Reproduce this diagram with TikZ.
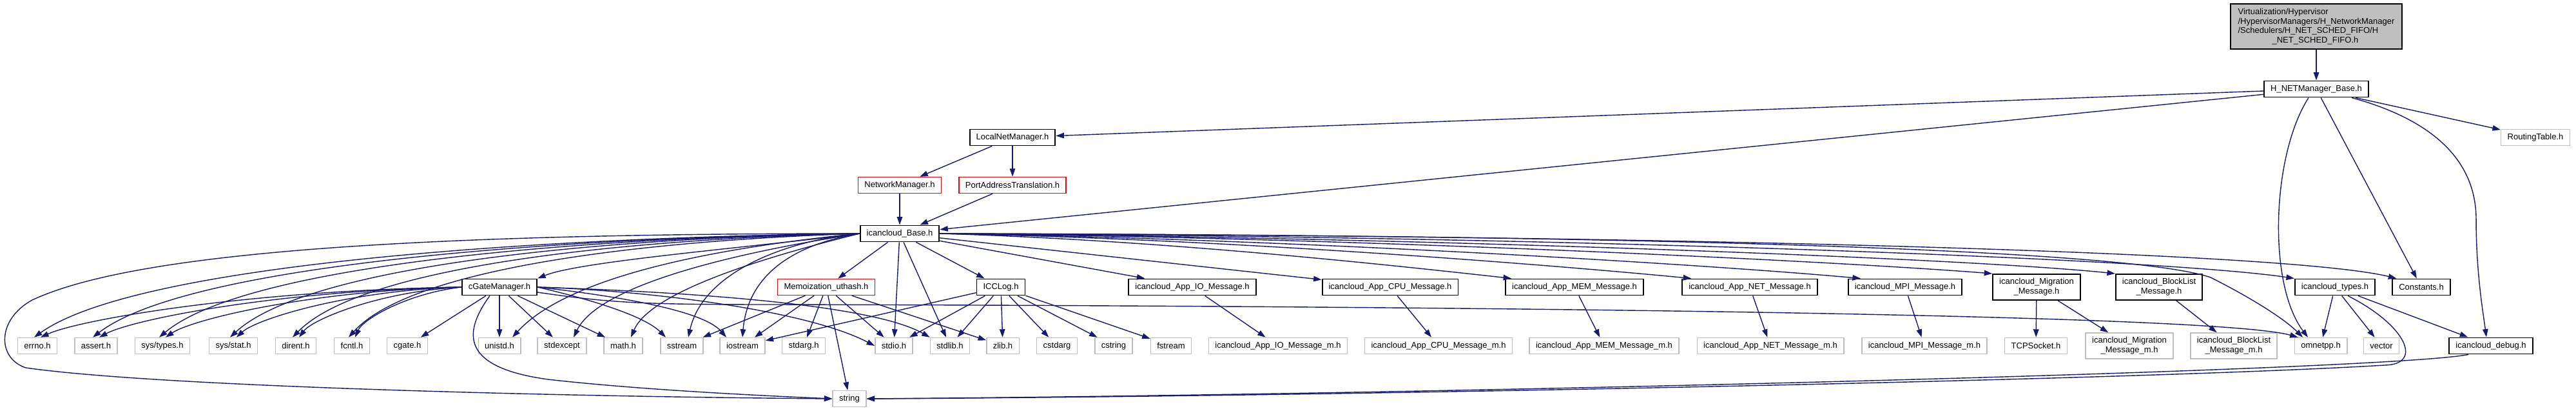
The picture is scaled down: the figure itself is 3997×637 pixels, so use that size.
\documentclass[tikz,border=0pt]{standalone}
\usepackage{fontspec}
\setmainfont{Liberation Sans}
\usetikzlibrary{arrows.meta}
\definecolor{dox_blue}{RGB}{25, 25, 112}
\definecolor{dox_grey}{RGB}{191, 191, 191}

\begin{document}
\begin{tikzpicture}[x=0.01cm, y=-0.01cm, >={Triangle[length=1.25mm, width=0.85mm]},
      font=\fontsize{3.7}{4.2}\selectfont,
      filebox/.style={draw, fill=white, align=center, minimum height=0.25cm,
        inner xsep=0.1cm, inner ysep=0.2mm},
      hdr/.style={filebox, draw=black, line width=0.55pt},
      sys/.style={filebox, draw=dox_grey, line width=0.4pt},
      trunc/.style={filebox, draw=red, line width=0.4pt},
      dep/.style={->, draw=dox_blue, line width=0.4pt}]
    \useasboundingbox (0,0) rectangle (3997,637);

    \node[hdr, fill=dox_grey, align=left, minimum width=2.66cm, minimum height=0.7cm] (root) at (3594,41)
      {Virtualization/Hypervisor\\/HypervisorManagers/H\_NetworkManager\\/Schedulers/H\_NET\_SCHED\_FIFO/H\\\hspace*{0.53cm}\_NET\_SCHED\_FIFO.h};
    \node[hdr]   (hnet)     at (3594,138) {H\_NETManager\_Base.h};
    \node[hdr]   (localnet) at (1571,213) {LocalNetManager.h};
    \node[sys]   (routing)  at (3934,213) {RoutingTable.h};
    \node[trunc] (netmgr)   at (1396,287) {NetworkManager.h};
    \node[trunc] (portaddr) at (1571,287) {PortAddressTranslation.h};
    \node[hdr]   (base)     at (1396,362) {icancloud\_Base.h};

    \node[hdr]   (gatemgr)   at (775,445)  {cGateManager.h};
    \node[trunc] (memo)      at (1282,445) {Memoization\_uthash.h};
    \node[hdr]   (icclog)    at (1553,445) {ICCLog.h};
    \node[hdr]   (appio)     at (1850,445) {icancloud\_App\_IO\_Message.h};
    \node[hdr]   (appcpu)    at (2157,445) {icancloud\_App\_CPU\_Message.h};
    \node[hdr]   (appmem)    at (2443,445) {icancloud\_App\_MEM\_Message.h};
    \node[hdr]   (appnet)    at (2715,445) {icancloud\_App\_NET\_Message.h};
    \node[hdr]   (mpi)       at (2956,445) {icancloud\_MPI\_Message.h};
    \node[hdr, minimum height=0.4cm] (migration) at (3160,445) {icancloud\_Migration\\\_Message.h};
    \node[hdr, minimum height=0.4cm] (blocklist) at (3350,445) {icancloud\_BlockList\\\_Message.h};
    \node[hdr]   (types)     at (3623,445) {icancloud\_types.h};
    \node[hdr]   (constants) at (3757,445) {Constants.h};

    \node[sys] (errno)     at (58,536)   {errno.h};
    \node[sys] (assert)    at (149,536)  {assert.h};
    \node[sys] (systypes)  at (252,536)  {sys/types.h};
    \node[sys] (sysstat)   at (362,536)  {sys/stat.h};
    \node[sys] (dirent)    at (459,536)  {dirent.h};
    \node[sys] (fcntl)     at (546,536)  {fcntl.h};
    \node[sys] (cgateh)    at (632,536)  {cgate.h};
    \node[sys] (unistd)    at (775,536)  {unistd.h};
    \node[sys] (stdexcept) at (872,536)  {stdexcept};
    \node[sys] (math)      at (967,536)  {math.h};
    \node[sys] (sstream)   at (1058,536) {sstream};
    \node[sys] (iostream)  at (1152,536) {iostream};
    \node[sys] (stdarg)    at (1247,536) {stdarg.h};
    \node[sys] (stdio)     at (1387,536) {stdio.h};
    \node[sys] (stdlib)    at (1474,536) {stdlib.h};
    \node[sys] (zlib)      at (1556,536) {zlib.h};
    \node[sys] (cstdarg)   at (1640,536) {cstdarg};
    \node[sys] (cstring)   at (1728,536) {cstring};
    \node[sys] (fstream)   at (1817,536) {fstream};
    \node[sys] (appiom)    at (1983,536) {icancloud\_App\_IO\_Message\_m.h};
    \node[sys] (appcpum)   at (2232,536) {icancloud\_App\_CPU\_Message\_m.h};
    \node[sys] (appmemm)   at (2489,536) {icancloud\_App\_MEM\_Message\_m.h};
    \node[sys] (appnetm)   at (2747,536) {icancloud\_App\_NET\_Message\_m.h};
    \node[sys] (mpim)      at (2986,536) {icancloud\_MPI\_Message\_m.h};
    \node[sys] (tcpsocket) at (3159,536) {TCPSocket.h};
    \node[sys, minimum height=0.4cm] (migm)   at (3304,536) {icancloud\_Migration\\\_Message\_m.h};
    \node[sys, minimum height=0.4cm] (blockm) at (3466,536) {icancloud\_BlockList\\\_Message\_m.h};
    \node[sys] (omnetpp)   at (3601,536) {omnetpp.h};
    \node[sys] (vector)    at (3695,536) {vector};
    \node[hdr] (debug)     at (3865,536) {icancloud\_debug.h};
    \node[sys] (str)       at (1318,618) {string};

    % upper part
    \draw[dep] (root) -- (hnet);
    \draw[dep] (hnet) -- (localnet);
    \draw[dep] (hnet) -- (base);
    \draw[dep] (hnet) -- (routing);
    \draw[dep] (hnet) -- (constants);
    \draw[dep] ([xshift=-0.12cm]hnet.south) .. controls (3525,240) and (3518,440) .. ([xshift=-0.2cm]omnetpp.north);
    \draw[dep] ([xshift=0.55cm]hnet.south) .. controls (3790,190) and (3842,260) .. (3842,340)
      .. controls (3842,420) and (3852,480) .. ([xshift=-0.07cm]debug.north);
    \draw[dep] (localnet) -- (netmgr);
    \draw[dep] (localnet) -- (portaddr);
    \draw[dep] (netmgr) -- (base);
    \draw[dep] (portaddr) -- (base);

    % icancloud_Base.h
    \draw[dep] (base.west) .. controls (824,368) and (211,410) .. ([xshift=-0.05cm]errno.north);
    \draw[dep] (base.west) .. controls (860,368) and (291,410) .. ([xshift=-0.05cm]assert.north);
    \draw[dep] (base.west) .. controls (901,368) and (382,410) .. ([xshift=-0.05cm]systypes.north);
    \draw[dep] (base.west) .. controls (945,368) and (479,410) .. ([xshift=-0.05cm]sysstat.north);
    \draw[dep] (base.west) .. controls (984,370) and (564,410) .. ([xshift=-0.05cm]dirent.north);
    \draw[dep] (base.west) .. controls (1019,372) and (641,412) .. ([xshift=-0.05cm]fcntl.north);
    \draw[dep] (base.west) .. controls (1150,385) and (900,405) .. (gatemgr.north east);
    \draw[dep] (base.west) .. controls (1100,385) and (880,430) .. ([xshift=0.2cm]unistd.north);
    \draw[dep] (base.west) .. controls (1150,390) and (930,440) .. ([xshift=0.18cm]stdexcept.north);
    \draw[dep] (base.west) .. controls (1200,395) and (1010,450) .. ([xshift=0.12cm]math.north);
    \draw[dep] (base.west) .. controls (1224,372) and (1091,420) .. ([xshift=0.1cm]sstream.north);
    \draw[dep] (base.west) .. controls (1225,380) and (1160,430) .. (iostream.north);
    \draw[dep] (base.west) .. controls (600,362) and (200,395) .. (50,465)
      .. controls (-5,495) and (-5,555) .. (40,570) .. controls (250,600) and (900,615) .. (str.west);
    \draw[dep] (base) -- (memo);
    \draw[dep] (base) -- (stdio);
    \draw[dep] (base) -- (stdlib);
    \draw[dep] (base) -- (icclog);
    \draw[dep] (base) -- (appio);
    \draw[dep] (base) -- (appcpu);
    \draw[dep] (base.east) .. controls (1800,372) and (2150,410) .. ([xshift=0.1cm]appmem.north west);
    \draw[dep] (base.east) .. controls (1900,370) and (2400,410) .. ([xshift=0.15cm]appnet.north west);
    \draw[dep] (base.east) .. controls (2000,370) and (2650,410) .. ([xshift=0.2cm]mpi.north west);
    \draw[dep] (base.east) .. controls (2100,368) and (2850,405) .. (migration.north west);
    \draw[dep] (base.east) .. controls (2200,368) and (3050,400) .. (blocklist.north west);
    \draw[dep] (base.east) .. controls (2400,366) and (3350,400) .. (types.north west);
    \draw[dep] (base.east) .. controls (2600,365) and (3550,390) .. ([xshift=0.07cm]constants.north west);
    \draw[dep] (base.east) .. controls (2500,364) and (3300,385) .. (3430,430)
      .. controls (3480,455) and (3540,490) .. ([xshift=-0.28cm]omnetpp.north);

    % cGateManager.h
    \draw[dep] (gatemgr.west) .. controls (387,450) and (124,495) .. ([xshift=0.05cm]errno.north);
    \draw[dep] (gatemgr.west) .. controls (433,450) and (206,495) .. ([xshift=0.05cm]assert.north);
    \draw[dep] (gatemgr.west) .. controls (484,450) and (298,495) .. ([xshift=0.05cm]systypes.north);
    \draw[dep] (gatemgr.west) .. controls (539,450) and (397,495) .. ([xshift=0.05cm]sysstat.north);
    \draw[dep] (gatemgr.west) .. controls (588,452) and (485,495) .. ([xshift=0.05cm]dirent.north);
    \draw[dep] (gatemgr.west) .. controls (631,455) and (563,495) .. ([xshift=0.05cm]fcntl.north);
    \draw[dep] (gatemgr) -- (cgateh);
    \draw[dep] (gatemgr) -- (unistd);
    \draw[dep] (gatemgr) -- (stdexcept);
    \draw[dep] (gatemgr) -- (math);
    \draw[dep] (gatemgr.east) .. controls (920,465) and (1000,490) .. ([xshift=-0.25cm]sstream.north);
    \draw[dep] (gatemgr.east) .. controls (950,458) and (1090,480) .. ([xshift=-0.25cm]iostream.north);
    \draw[dep] (gatemgr.east) .. controls (1000,450) and (1250,480) .. (stdio.west);
    \draw[dep] (gatemgr.east) .. controls (1050,452) and (1350,470) .. (stdlib.north west);
    \draw[dep] ([yshift=-0.08cm]gatemgr.east) .. controls (950,470) and (1000,472) .. (1200,472)
      .. controls (2500,475) and (3450,490) .. ([xshift=0.06cm]omnetpp.north west);
    \draw[dep] ([xshift=-0.15cm]gatemgr.south) .. controls (715,520) and (720,570) .. (850,588)
      .. controls (1000,605) and (1200,614) .. (str.west);

    % Memoization_uthash.h and ICCLog.h
    \draw[dep] (memo) -- (sstream);
    \draw[dep] (memo) -- (iostream);
    \draw[dep] (memo) -- (stdarg);
    \draw[dep] (memo) -- (str);
    \draw[dep] (memo) -- (stdio);
    \draw[dep] (memo) -- (zlib);
    \draw[dep] (icclog) -- (iostream);
    \draw[dep] (icclog) -- (stdio);
    \draw[dep] (icclog) -- (stdlib);
    \draw[dep] (icclog) -- (zlib);
    \draw[dep] (icclog) -- (cstdarg);
    \draw[dep] (icclog) -- (cstring);
    \draw[dep] (icclog) -- (fstream);

    % messages
    \draw[dep] (appio) -- (appiom);
    \draw[dep] (appcpu) -- (appcpum);
    \draw[dep] (appmem) -- (appmemm);
    \draw[dep] (appnet) -- (appnetm);
    \draw[dep] (mpi) -- (mpim);
    \draw[dep] (migration) -- (tcpsocket);
    \draw[dep] (migration) -- (migm);
    \draw[dep] (blocklist) -- (blockm);

    % icancloud_types.h and icancloud_debug.h
    \draw[dep] (types) -- ([xshift=0.03cm]omnetpp.north);
    \draw[dep] (types) -- (vector);
    \draw[dep] (types) -- (debug);
    \draw[dep] ([xshift=0.2cm]types.south) .. controls (3735,505) and (3760,565) .. (3700,566)
      .. controls (3300,590) and (2000,615) .. (str.east);
    \draw[dep] ([xshift=-0.35cm]debug.south) .. controls (3700,575) and (2200,612) .. (str.east);
  \end{tikzpicture}
\end{document}
